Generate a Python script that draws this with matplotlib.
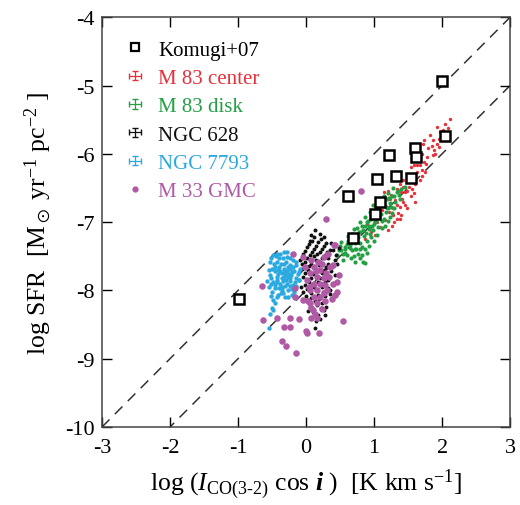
import numpy as np
import matplotlib
matplotlib.use('Agg')
import matplotlib.pyplot as plt
from matplotlib.lines import Line2D
from matplotlib.container import ErrorbarContainer
from matplotlib.legend_handler import HandlerErrorbar

plt.rcParams['font.family'] = ['Liberation Serif', 'DejaVu Serif']
plt.rcParams['mathtext.fontset'] = 'custom'
plt.rcParams['mathtext.rm'] = 'Liberation Serif'
plt.rcParams['mathtext.it'] = 'Liberation Serif:italic'
plt.rcParams['mathtext.bf'] = 'Liberation Serif:italic:bold'
plt.rcParams['mathtext.fallback'] = 'stix'
plt.rcParams['axes.unicode_minus'] = False

# Komugi+07 (x, y)
komugi = [(2.00, -4.93), (2.05, -5.74), (1.60, -5.91), (1.61, -6.05), (1.22, -6.02),
          (1.04, -6.37), (1.32, -6.32), (1.55, -6.35), (0.62, -6.61), (1.09, -6.71),
          (1.01, -6.88), (0.69, -7.23), (-0.98, -8.13)]

# M 83 center
m83_center = [(2.11, -5.49), (2.04, -5.56), (1.92, -5.60), (1.97, -5.68), (2.00, -5.75),
              (1.87, -5.80), (1.82, -5.73), (1.85, -5.88), (1.92, -5.85), (1.95, -5.90),
              (1.90, -6.00), (1.72, -5.85), (1.70, -6.00), (1.73, -6.12), (1.68, -6.17),
              (1.70, -6.24), (1.63, -6.17), (1.58, -6.17), (1.55, -6.19), (1.63, -6.27),
              (1.70, -6.32), (1.75, -6.27), (1.68, -6.39), (1.60, -6.44), (1.43, -6.39),
              (1.38, -6.44), (1.33, -6.51), (1.43, -6.49), (1.46, -6.56), (1.58, -6.58),
              (1.41, -6.66), (1.31, -6.68), (1.46, -6.75), (1.38, -6.78), (1.28, -6.80),
              (1.87, -6.02), (1.65, -6.02), (1.36, -6.29), (1.48, -6.54), (1.43, -6.71),
              (1.48, -6.80), (1.33, -6.75), (1.24, -6.66), (1.14, -6.56), (1.21, -6.54),
              (1.19, -6.78), (1.28, -6.90), (1.38, -6.95), (1.26, -7.05), (1.09, -7.07),
              (1.01, -7.19), (0.94, -7.09), (0.89, -7.02), (0.87, -7.24), (1.09, -6.88),
              (1.16, -6.97), (1.01, -6.92), (1.33, -6.95), (2.08, -5.62), (1.78, -6.05),
              (1.52, -6.48), (1.55, -6.62), (1.12, -6.82), (1.22, -6.85), (2.02, -5.65),
              (1.96, -5.78), (1.88, -5.95), (1.80, -5.92), (1.76, -6.15), (1.66, -6.08),
              (1.62, -6.35), (1.52, -6.32), (1.50, -6.40), (1.56, -6.52), (1.40, -6.56),
              (1.35, -6.86), (1.30, -7.00), (1.20, -7.12), (1.05, -7.00), (1.15, -6.75),
              (1.40, -6.90), (1.73, -5.80), (1.60, -6.70), (1.25, -6.60), (0.95, -7.15)]

# M 83 disk
m83_disk = [(1.33, -6.56), (1.26, -6.61), (1.19, -6.66), (1.31, -6.71), (1.14, -6.73),
            (1.21, -6.80), (1.06, -6.83), (0.99, -6.75), (0.94, -6.85), (1.01, -6.92),
            (1.14, -6.95), (1.24, -6.92), (0.87, -6.92), (0.89, -7.00), (0.79, -7.00),
            (0.97, -7.05), (1.06, -7.07), (1.16, -7.05), (0.75, -7.09), (0.84, -7.12),
            (0.94, -7.17), (1.04, -7.19), (0.67, -7.17), (0.77, -7.22), (0.89, -7.27),
            (0.62, -7.27), (0.72, -7.31), (0.82, -7.36), (0.57, -7.36), (0.67, -7.41),
            (0.77, -7.46), (0.52, -7.41), (0.79, -7.53), (0.84, -7.58), (0.82, -7.48),
            (1.38, -6.66), (1.11, -7.09), (0.70, -7.50), (0.99, -6.85), (0.52, -7.29),
            (0.48, -7.41), (0.60, -7.48), (0.87, -7.60), (1.40, -6.52), (1.45, -6.48),
            (1.36, -6.60), (1.28, -6.50), (1.23, -6.72), (1.10, -6.88), (1.03, -6.98),
            (0.92, -7.05), (0.85, -7.20), (0.74, -7.28), (0.65, -7.33), (0.58, -7.45),
            (0.96, -6.95), (1.18, -6.85), (1.30, -6.80), (0.70, -7.10), (0.62, -7.20),
            (0.92, -7.35), (1.00, -7.28), (0.55, -7.55), (0.45, -7.48), (1.08, -6.75),
            (1.15, -6.62), (0.80, -7.15), (0.90, -7.45), (1.20, -6.58), (0.72, -7.40),
            (1.35, -6.54), (1.30, -6.62), (1.22, -6.64), (1.25, -6.78), (1.17, -6.78),
            (1.12, -6.70), (1.05, -6.78), (1.02, -6.86), (1.12, -6.98), (1.08, -6.92),
            (0.95, -6.90), (0.91, -6.98), (0.98, -7.12), (0.86, -7.05), (0.82, -7.06),
            (0.78, -7.14), (0.88, -7.16), (0.70, -7.22), (0.79, -7.30), (0.68, -7.26),
            (0.64, -7.38), (0.74, -7.40), (0.60, -7.32), (0.54, -7.47), (0.50, -7.35),
            (0.86, -7.40), (0.96, -7.22), (1.20, -6.98), (0.72, -7.58), (0.80, -7.40),
            (0.93, -7.10), (1.00, -7.02), (1.26, -6.86), (0.66, -7.52), (0.58, -7.40)]

# NGC 628
ngc628 = [(0.11, -7.22), (0.26, -7.22), (0.06, -7.27), (0.18, -7.29), (0.30, -7.31),
          (0.01, -7.36), (0.11, -7.39), (0.23, -7.39), (-0.04, -7.46), (0.06, -7.48),
          (0.16, -7.46), (0.28, -7.48), (0.35, -7.41), (-0.01, -7.58), (0.08, -7.61),
          (0.21, -7.58), (-0.06, -7.68), (0.03, -7.70), (0.16, -7.70), (0.26, -7.70),
          (-0.04, -7.80), (0.08, -7.82), (0.21, -7.82), (0.30, -7.80), (-0.01, -7.92),
          (0.11, -7.95), (0.23, -7.95), (-0.04, -8.02), (0.08, -8.04), (0.18, -8.07),
          (0.01, -8.14), (0.13, -8.16), (0.23, -8.19), (0.06, -8.24), (0.35, -8.00),
          (0.40, -7.90), (0.33, -7.61), (0.43, -7.56), (-0.09, -7.56), (-0.11, -7.85),
          (0.26, -8.29), (0.18, -8.36), (0.13, -7.12), (0.21, -7.17), (0.08, -7.19),
          (0.13, -8.55), (0.22, -8.26), (0.40, -7.41), (0.02, -7.52), (0.14, -7.55),
          (0.32, -7.52), (0.05, -7.88), (0.18, -7.88), (0.28, -7.88), (0.36, -7.72),
          (0.00, -8.08), (0.28, -8.08), (0.10, -8.32), (-0.08, -7.95), (0.38, -8.12),
          (0.04, -7.32), (0.15, -7.35), (0.27, -7.35), (-0.02, -7.42), (0.09, -7.43),
          (0.20, -7.44), (0.31, -7.44), (0.12, -7.50), (0.24, -7.52), (-0.06, -7.62),
          (0.05, -7.64), (0.12, -7.66), (0.19, -7.63), (0.29, -7.65), (0.38, -7.66),
          (-0.02, -7.74), (0.10, -7.76), (0.23, -7.75), (0.33, -7.84), (0.02, -7.98),
          (0.14, -8.00), (0.25, -8.02), (0.32, -7.96), (0.07, -8.11), (0.19, -8.12),
          (0.30, -8.24), (0.16, -8.22), (0.03, -8.30), (0.20, -8.42), (0.44, -7.48),
          (0.46, -7.62), (0.42, -7.78), (0.37, -7.30), (0.48, -7.38), (0.09, -7.28),
          (0.22, -7.25), (-0.09, -7.72), (0.35, -8.05), (0.28, -8.36), (0.15, -8.45)]

# NGC 7793
ngc7793 = [(-0.48, -7.48), (-0.38, -7.46), (-0.28, -7.51), (-0.19, -7.56), (-0.53, -7.58),
           (-0.43, -7.58), (-0.33, -7.61), (-0.24, -7.63), (-0.14, -7.63), (-0.50, -7.68),
           (-0.41, -7.70), (-0.31, -7.70), (-0.21, -7.73), (-0.11, -7.73), (-0.53, -7.78),
           (-0.43, -7.80), (-0.33, -7.80), (-0.24, -7.82), (-0.14, -7.82), (-0.48, -7.87),
           (-0.38, -7.90), (-0.28, -7.90), (-0.19, -7.92), (-0.46, -7.97), (-0.36, -8.00),
           (-0.26, -8.00), (-0.41, -8.07), (-0.31, -8.09), (-0.48, -8.14), (-0.21, -8.07),
           (-0.55, -7.95), (-0.09, -7.68), (-0.46, -8.19), (-0.48, -8.29), (-0.50, -8.26),
           (-0.53, -8.34), (-0.55, -8.55), (-0.28, -7.43), (-0.39, -7.53), (-0.36, -7.75),
           (-0.30, -7.85), (-0.40, -7.65), (-0.25, -7.76), (-0.35, -7.95), (-0.45, -7.72),
           (-0.20, -7.98), (-0.16, -7.88), (-0.33, -7.68), (-0.42, -7.84), (-0.27, -7.66),
           (-0.37, -8.03), (-0.23, -7.68), (-0.30, -7.78), (-0.52, -7.52), (-0.44, -7.50),
           (-0.34, -7.52), (-0.23, -7.52), (-0.15, -7.58), (-0.47, -7.62), (-0.37, -7.62),
           (-0.29, -7.58), (-0.19, -7.66), (-0.12, -7.76), (-0.55, -7.70), (-0.46, -7.66),
           (-0.38, -7.72), (-0.28, -7.72), (-0.17, -7.72), (-0.51, -7.82), (-0.41, -7.76),
           (-0.32, -7.74), (-0.22, -7.78), (-0.10, -7.84), (-0.52, -7.90), (-0.43, -7.88),
           (-0.34, -7.86), (-0.24, -7.86), (-0.14, -7.94), (-0.50, -8.02), (-0.40, -7.96),
           (-0.31, -7.94), (-0.23, -7.94), (-0.43, -8.10), (-0.34, -8.04), (-0.26, -8.10),
           (-0.18, -8.02), (-0.52, -8.08), (-0.45, -7.92), (-0.26, -7.80), (-0.35, -7.82),
           (-0.42, -7.46), (-0.33, -7.44), (-0.57, -7.86)]

# M 33 GMC
m33 = [(0.81, -6.55), (0.29, -6.95), (0.41, -7.33), (-0.19, -7.47), (-0.65, -7.94),
       (-0.16, -7.97), (0.46, -8.02), (-0.63, -8.43), (-0.42, -8.40), (-0.33, -8.54),
       (-0.24, -8.41), (-0.10, -8.42), (-0.24, -8.54), (0.00, -8.60), (0.55, -8.44),
       (-0.36, -8.74), (-0.29, -8.82), (-0.15, -8.91), (0.48, -7.78), (0.40, -7.63),
       (0.45, -7.87), (0.01, -8.63), (0.19, -8.62), (0.16, -8.41), (0.38, -8.12),
       (-0.16, -8.09), (0.06, -8.19), (0.10, -8.28), (0.11, -7.65), (0.06, -7.75),
       (0.16, -7.80), (0.01, -7.85), (0.11, -7.90), (0.21, -7.90), (0.06, -8.00),
       (0.16, -8.00), (0.26, -8.04), (0.11, -8.09), (0.03, -8.16), (0.16, -8.19),
       (0.08, -8.26), (0.13, -8.34), (0.26, -7.51), (0.33, -7.46), (-0.04, -7.51),
       (0.21, -7.70), (0.30, -7.75), (0.35, -7.65), (-0.01, -7.65), (0.26, -7.82),
       (0.08, -7.56), (0.43, -7.34), (0.40, -7.90), (0.43, -8.07), (-0.04, -8.14),
       (0.28, -8.16), (0.18, -7.58), (0.23, -7.62), (0.28, -7.92), (0.34, -7.80),
       (0.04, -7.95), (0.20, -8.10), (0.14, -7.72), (0.08, -8.40), (0.24, -8.27),
       (0.31, -8.00)]

groups = [
    ('M 83 center', m83_center, '#e8303a', 6),
    ('M 83 disk', m83_disk, '#23a043', 9),
    ('NGC 628', ngc628, '#111111', 8),
    ('NGC 7793', ngc7793, '#2aa8e0', 10),
    ('M 33 GMC', m33, '#b05aa6', 22),
]

fig = plt.figure(figsize=(5.2, 5.06), dpi=100)
ax = fig.add_axes([0.196, 0.154, 0.785, 0.81])

# lines of constant ratio
xx = np.array([-3, 3])
ax.plot(xx, xx - 7, '--', color='#333333', lw=1.1, dashes=(7, 5), zorder=1)
ax.plot(xx, xx - 8, '--', color='#333333', lw=1.1, dashes=(7, 5), zorder=1)

for name, pts, col, s in groups:
    arr = np.array(pts)
    ax.scatter(arr[:, 0], arr[:, 1], s=s, c=col, lw=0, zorder=2)

kx, ky = np.array(komugi).T
ax.plot(kx, ky, 's', ms=7.5, mfc='white', mec='black', mew=1.8, zorder=4)

ax.set_xlim(-3, 3)
ax.set_ylim(-10, -4)
ax.set_xticks(range(-3, 4))
ax.set_yticks(range(-10, -3))
ax.tick_params(direction='in', length=7, width=1, labelsize=16, top=True, right=True)
ax.tick_params(axis='x', pad=8)
ax.tick_params(axis='y', pad=5)
for sp in ax.spines.values():
    sp.set_linewidth(1.1)
    sp.set_color('#444444')

ax.set_xlabel(r'log ($I_{\mathrm{CO(3}\text{-}\mathrm{2)}}$ cos $\mathbf{i}$ )  [K km s$^{\mathrm{-1}}$]',
              fontsize=18.5, labelpad=7)
ax.set_ylabel(r'log SFR  [M$_\odot$ yr$^{\mathrm{-1}}$ pc$^{\mathrm{-2}}$ ]', fontsize=18.5, labelpad=8)

# legend
handles = [Line2D([], [], ls='none', marker='s', ms=6, mfc='white', mec='black', mew=1.6)]
labels = ['Komugi+07']
colors = ['black']
for name, pts, col, s in groups[:-1]:
    h = ax.errorbar([np.nan], [np.nan], xerr=[1], yerr=[1], fmt='none', ecolor=col,
                    elinewidth=0.9, capsize=2)
    handles.append(h)
    labels.append(name)
    colors.append(col)
handles.append(Line2D([], [], ls='none', marker='o', ms=3.5, color=groups[-1][2]))
labels.append('M 33 GMC')
colors.append(groups[-1][2])

leg = ax.legend(handles, labels, loc='upper left', bbox_to_anchor=(0.01, 0.99), frameon=False,
                fontsize=15, handlelength=1.0, handletextpad=0.6, labelspacing=0.42,
                handler_map={ErrorbarContainer: HandlerErrorbar(xerr_size=0.28, yerr_size=0.22)})
for t, c in zip(leg.get_texts(), colors):
    t.set_color(c)

fig.savefig('out.png', dpi=100)
